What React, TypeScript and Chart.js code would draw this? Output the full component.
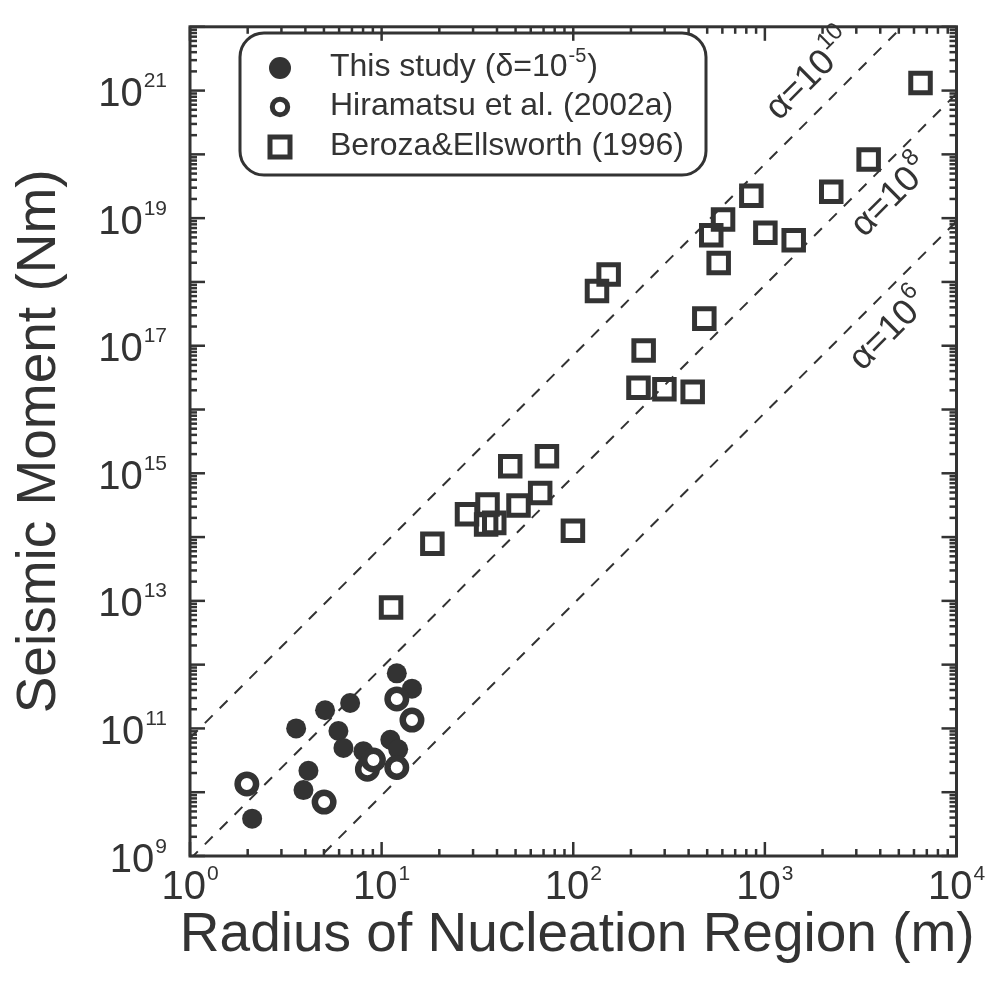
import React, { useEffect, useRef } from 'react';
import { Chart, registerables } from 'chart.js';

Chart.register(...registerables);

// ---- data ----
const studyRadius = [12.0, 14.4, 6.85, 5.07, 3.58, 5.95, 6.32, 8.03, 11.1, 12.2, 4.15, 3.91, 2.11];
const studyMoment = [7.3e11, 4.2e11, 2.5e11, 1.93e11, 1.0e11, 9.1e10, 4.95e10, 4.4e10, 6.65e10, 4.7e10, 2.17e10, 1.08e10, 3.85e9];

const hiraRadius = [12.0, 14.4, 8.43, 12.0, 9.06, 5.01, 1.98];
const hiraMoment = [2.9e11, 1.35e11, 2.3e10, 2.44e10, 3.2e10, 7.0e9, 1.35e10];

const berozaRadius = [6490, 3480, 2220, 850, 605, 525, 1006, 1414, 574, 153, 133, 483, 233, 219, 299, 420, 72.9, 46.9, 67.2, 51.8, 35.7, 27.9, 35.1, 38.7, 18.4, 99.6, 11.2];
const berozaMoment = [1.32e21, 8.3e19, 2.6e19, 2.24e19, 9.5e18, 5.4e18, 5.9e18, 4.5e18, 1.98e18, 1.31e18, 7.2e17, 2.66e17, 8.4e16, 2.2e16, 2.08e16, 1.89e16, 1.85e15, 1.29e15, 4.9e14, 3.13e14, 3.25e14, 2.28e14, 1.57e14, 1.67e14, 7.85e13, 1.26e14, 7.85e12];

// reference lines: log10(M) at r = 1 m, slope 3 in log-log
const alphaExponents = ['10', '8', '6'];
const lineIntercepts = [10.85, 8.95, 6.95];
const lineRadiusRange = [1, 1e4];

const xTickExponents = [0, 1, 2, 3, 4];
const yTickExponents = [9, 11, 13, 15, 17, 19, 21];

const legendLabels = ['This study (δ=10', 'Hiramatsu et al. (2002a)', 'Beroza&Ellsworth (1996)'];

const INK = '#333333';
const FONT = '"Liberation Sans", Arial, Helvetica, sans-serif';

// label placement along lines (log10 r of label centre, perpendicular offset px)
const lineLabelLogR = [3.35, 3.56, 3.54];
const lineLabelOffset = [32, -25, -28];

function toPoints(xs: number[], ys: number[]) {
  return xs.map((x, i) => ({ x, y: ys[i] }));
}

function drawPower(ctx: CanvasRenderingContext2D, exp: string, x: number, y: number, align: 'right' | 'center', big: number, small: number, raise: number) {
  ctx.font = `${big}px ${FONT}`;
  const wb = ctx.measureText('10').width;
  ctx.font = `${small}px ${FONT}`;
  const we = ctx.measureText(exp).width;
  const total = wb + 1 + we;
  const sx = align === 'right' ? x - total : x - total / 2;
  ctx.textAlign = 'left';
  ctx.textBaseline = 'alphabetic';
  ctx.font = `${big}px ${FONT}`;
  ctx.fillText('10', sx, y);
  ctx.font = `${small}px ${FONT}`;
  ctx.fillText(exp, sx + wb + 1, y - raise);
}

const decorPlugin = {
  id: 'decor',
  afterDatasetsDraw(chart: any) {
    const { ctx, chartArea: a, scales } = chart;
    const xs = scales.x;
    const ys = scales.y;
    ctx.save();
    ctx.strokeStyle = INK;
    ctx.fillStyle = INK;
    ctx.lineCap = 'butt';

    const seg = (x1: number, y1: number, x2: number, y2: number) => {
      ctx.beginPath();
      ctx.moveTo(x1, y1);
      ctx.lineTo(x2, y2);
      ctx.stroke();
    };

    // x ticks (bottom + top)
    ctx.lineWidth = 2.5;
    for (let e = 0; e <= 4; e++) {
      for (let m = 1; m <= 9; m++) {
        if (e === 4 && m > 1) break;
        const px = xs.getPixelForValue(m * Math.pow(10, e));
        const len = m === 1 ? 14 : 7;
        seg(px, a.bottom, px, a.bottom - len);
        seg(px, a.top, px, a.top + len);
      }
    }
    // y ticks (left + right)
    for (let e = 9; e <= 22; e++) {
      for (let m = 1; m <= 9; m++) {
        if (e === 22 && m > 1) break;
        const py = ys.getPixelForValue(m * Math.pow(10, e));
        const len = m === 1 ? 15 : 7;
        seg(a.left, py, a.left + len, py);
        seg(a.right, py, a.right - len, py);
      }
    }
    // frame
    ctx.lineWidth = 3;
    ctx.strokeRect(a.left, a.top, a.right - a.left, a.bottom - a.top);

    // tick labels
    for (const e of xTickExponents) {
      const px = xs.getPixelForValue(Math.pow(10, e));
      drawPower(ctx, String(e), px, a.bottom + 43, 'center', 40, 21, 19);
    }
    for (const e of yTickExponents) {
      const py = ys.getPixelForValue(Math.pow(10, e));
      drawPower(ctx, String(e), a.left - 23, py + 15.5, 'right', 40, 21, 19);
    }

    // axis titles
    ctx.font = `55px ${FONT}`;
    ctx.textAlign = 'center';
    ctx.textBaseline = 'alphabetic';
    ctx.fillText('Radius of Nucleation Region (m)', (a.left + a.right) / 2 + 4, a.bottom + 95);
    ctx.save();
    ctx.translate(47, (a.top + a.bottom) / 2);
    ctx.rotate(-Math.PI / 2);
    ctx.fillText('Seismic Moment (Nm)', 0, 0);
    ctx.restore();

    // line labels
    lineIntercepts.forEach((b, i) => {
      const lr = lineLabelLogR[i];
      const x0 = xs.getPixelForValue(Math.pow(10, lr));
      const y0 = ys.getPixelForValue(Math.pow(10, b + 3 * lr));
      const x1 = xs.getPixelForValue(Math.pow(10, lr + 0.5));
      const y1 = ys.getPixelForValue(Math.pow(10, b + 3 * (lr + 0.5)));
      const ang = Math.atan2(y1 - y0, x1 - x0);
      const nx = Math.sin(ang);
      const ny = -Math.cos(ang);
      const cx = x0 + nx * lineLabelOffset[i];
      const cy = y0 + ny * lineLabelOffset[i];
      ctx.save();
      ctx.translate(cx, cy);
      ctx.rotate(ang);
      ctx.font = `36px ${FONT}`;
      const w1 = ctx.measureText('α=10').width;
      ctx.font = `24px ${FONT}`;
      const w2 = ctx.measureText(alphaExponents[i]).width;
      const tot = w1 + 1 + w2;
      ctx.textAlign = 'left';
      ctx.textBaseline = 'alphabetic';
      ctx.font = `36px ${FONT}`;
      ctx.fillText('α=10', -tot / 2, 12);
      ctx.font = `24px ${FONT}`;
      ctx.fillText(alphaExponents[i], -tot / 2 + w1 + 1, -5);
      ctx.restore();
    });

    // legend
    const lx = 232, ly = 25, lw = 466, lh = 142;
    ctx.lineWidth = 3;
    ctx.beginPath();
    (ctx as any).roundRect(lx, ly, lw, lh, 24);
    ctx.stroke();
    const rowY = [60, 99, 139];
    const mx = 272;
    // filled circle
    ctx.beginPath();
    ctx.arc(mx, rowY[0], 11, 0, Math.PI * 2);
    ctx.fill();
    // open circle
    ctx.lineWidth = 5;
    ctx.beginPath();
    ctx.arc(mx, rowY[1], 7.7, 0, Math.PI * 2);
    ctx.stroke();
    // square
    ctx.strokeRect(mx - 10, rowY[2] - 10, 20, 20);

    ctx.textAlign = 'left';
    ctx.textBaseline = 'alphabetic';
    ctx.font = `32px ${FONT}`;
    const tx = 322;
    ctx.fillText(legendLabels[0], tx, rowY[0] + 8);
    const w = ctx.measureText(legendLabels[0]).width;
    ctx.font = `20px ${FONT}`;
    ctx.fillText('-5', tx + w + 1, rowY[0] - 6);
    const ws = ctx.measureText('-5').width;
    ctx.font = `32px ${FONT}`;
    ctx.fillText(')', tx + w + ws + 2, rowY[0] + 8);
    ctx.fillText(legendLabels[1], tx, rowY[1] + 8);
    ctx.fillText(legendLabels[2], tx, rowY[2] + 8);

    ctx.restore();
  },
};

export default function App() {
  const ref = useRef<HTMLCanvasElement>(null);
  useEffect(() => {
    if (!ref.current) return;
    const lineSets = lineIntercepts.map((b, i) => ({
      label: 'alpha=1e' + alphaExponents[i],
      data: lineRadiusRange.map((r) => ({ x: r, y: Math.pow(10, b + 3 * Math.log10(r)) })),
      showLine: true,
      borderColor: INK,
      borderWidth: 2,
      borderDash: [11, 10],
      pointRadius: 0,
      fill: false,
      order: 10,
    }));
    const chart = new Chart(ref.current, {
      type: 'scatter',
      data: {
        datasets: [
          ...lineSets,
          {
            label: 'This study',
            data: toPoints(studyRadius, studyMoment),
            pointStyle: 'circle',
            pointRadius: 10,
            backgroundColor: INK,
            borderColor: INK,
            borderWidth: 0,
            order: 3,
          },
          {
            label: 'Hiramatsu et al. (2002a)',
            data: toPoints(hiraRadius, hiraMoment),
            pointStyle: 'circle',
            pointRadius: 9.25,
            backgroundColor: '#ffffff',
            borderColor: INK,
            borderWidth: 6.5,
            order: 2,
          },
          {
            label: 'Beroza&Ellsworth (1996)',
            data: toPoints(berozaRadius, berozaMoment),
            pointStyle: 'rect',
            pointRadius: 13.8,
            backgroundColor: 'rgba(0,0,0,0)',
            borderColor: INK,
            borderWidth: 5,
            order: 1,
          },
        ] as any,
      },
      options: {
        animation: false,
        responsive: false,
        devicePixelRatio: 1,
        layout: { padding: { left: 182, right: 28.5, top: 3.5, bottom: 125 } },
        plugins: { legend: { display: false }, tooltip: { enabled: false } },
        scales: {
          x: { type: 'logarithmic', min: 1, max: 1e4, display: false },
          y: { type: 'logarithmic', min: 1e9, max: 1e22, display: false },
        },
      },
      plugins: [decorPlugin],
    } as any);
    return () => chart.destroy();
  }, []);
  return <canvas ref={ref} width={977} height={973} style={{ display: 'block', width: 977, height: 973 }} />;
}
